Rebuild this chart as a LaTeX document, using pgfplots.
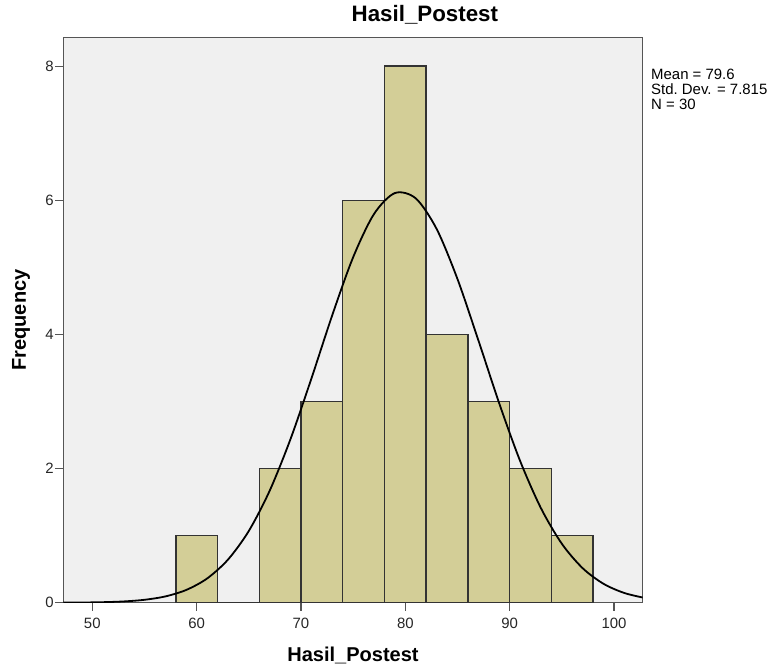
\documentclass[border=0pt]{standalone}
\usepackage{fontspec}
\setmainfont{Liberation Sans}
\usepackage{pgfplots}
\pgfplotsset{compat=1.18}

\definecolor{plotbg}{HTML}{F0F0F0}
\definecolor{barfill}{HTML}{D3CE97}
\definecolor{edge}{HTML}{333333}
\definecolor{frame}{HTML}{555555}

\begin{document}
\begin{tikzpicture}
\useasboundingbox (0,0) rectangle (772bp,667bp);
\begin{axis}[
    at={(63.3bp,64.3bp)}, anchor=south west,
    scale only axis,
    width=579.4bp, height=565.4bp,
    xmin=47.22, xmax=102.75,
    ymin=0, ymax=8.43,
    axis background/.style={fill=plotbg},
    axis line style={frame, line width=1.3bp},
    xtick={50,60,70,80,90,100},
    ytick={0,2,4,6,8},
    tick pos=left,
    tick align=outside,
    major tick length=8bp,
    tick style={frame, line width=1.1bp},
    /pgf/number format/assume math mode=true,
    tick label style={font=\fontsize{15}{15}\selectfont, color=black!85},
    xticklabel style={yshift=-4bp},
    yticklabel style={xshift=2bp},
    title={Hasil\_Postest},
    title style={font=\bfseries\fontsize{22.4}{22.4}\selectfont, at={(axis description cs:0.624,1.0177)}, anchor=base},
    xlabel={Hasil\_Postest},
    xlabel style={font=\bfseries\fontsize{20.1}{20.1}\selectfont, at={(axis description cs:0.5,-0.1043)}, anchor=base},
    ylabel={Frequency},
    ylabel style={font=\bfseries\fontsize{20.1}{20.1}\selectfont, at={(axis description cs:-0.0644,0.5)}, anchor=base},
]
% histogram, bin width 4
\addplot[ybar interval, fill=barfill, draw=edge, line width=1.5bp] coordinates {
    (58,1) (62,0) (66,2) (70,3) (74,6) (78,8) (82,4) (86,3) (90,2) (94,1) (98,0)
};
% normal curve, mean 79.6, sd 7.815, N 30
\addplot[smooth, black, line width=1.8bp] coordinates {
    (47,0.0010) (49,0.0029) (51,0.0076) (53,0.0187) (55,0.0432) (57,0.0936)
    (59,0.1898) (61,0.3607) (63,0.6419) (65,1.0696) (67,1.6699) (69,2.4415)
    (71,3.3434) (73,4.2882) (75,5.1514) (77,5.7959) (79,6.1077)
    (81,6.0282) (83,5.5726) (85,4.8249) (87,3.9127) (89,2.9717) (91,2.1139)
    (93,1.4085) (95,0.8789) (97,0.5137) (99,0.2812) (101,0.1441) (103,0.0692)
};
\end{axis}
\node[anchor=north west, inner sep=0pt, align=left, font=\fontsize{15}{15}\selectfont]
    at (651bp,598bp) {Mean = 79.6\\Std.\ Dev. = 7.815\\N = 30};
\end{tikzpicture}
\end{document}
